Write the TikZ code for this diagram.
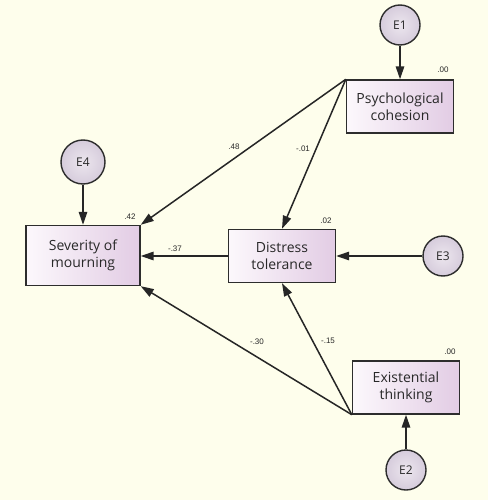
\documentclass[tikz,border=0pt]{standalone}
\usepackage{fontspec}
\setmainfont{Open Sans}
\newfontfamily\labfont{Liberation Sans}
\usetikzlibrary{arrows.meta}
\definecolor{bgc}{RGB}{254,254,236}
\definecolor{boxl}{RGB}{252,248,252}
\definecolor{boxr}{RGB}{226,204,228}
\definecolor{circi}{RGB}{236,230,238}
\definecolor{circo}{RGB}{214,204,220}
\definecolor{edgec}{RGB}{45,45,45}
\definecolor{txtc}{RGB}{40,40,40}
\begin{document}
\begin{tikzpicture}[x=1pt,y=-1pt,
  varbox/.style={rectangle,draw=edgec,line width=1.4pt,left color=boxl,right color=boxr,
    minimum width=107pt,minimum height=53pt,inner sep=0pt,align=center,text=txtc,
    font=\fontsize{14}{17}\selectfont},
  errc/.style={circle,draw=edgec,line width=1.4pt,inner color=circi,outer color=circo,minimum size=40pt,inner sep=0pt,
    text=txtc,font=\fontsize{12}{14}\selectfont},
  lab/.style={inner sep=0pt,text=txtc,font=\labfont\fontsize{8}{9}\selectfont},
  path/.style={draw=black!85,line width=1.5pt,-{Triangle[length=13pt,width=8.5pt]}}]
\fill[bgc] (0,0) rectangle (488,500);
\useasboundingbox (0,0) rectangle (488,500);
% boxes
\node[varbox] (psy) at (400,106.5) {Psychological\\cohesion};
\node[varbox,minimum width=114pt,minimum height=60pt] (sev) at (83,255.5) {Severity of\\mourning};
\node[varbox] (dis) at (282,256) {Distress\\tolerance};
\node[varbox] (exi) at (406,387.5) {Existential\\thinking};
% error circles
\node[errc] (e1) at (400,25) {E1};
\node[errc,minimum size=44pt] (e4) at (83,162) {E4};
\node[errc] (e3) at (443,256) {E3};
\node[errc] (e2) at (406,470) {E2};
% variance labels
\node[lab] (v1) at (443,70) {.00};
\node[lab] (v4) at (130,217) {.42};
\node[lab] (v3) at (326,221) {.02};
\node[lab] (v2) at (450,352) {.00};
% paths
\draw[path] (e1) -- (psy);
\draw[path] (e4) -- (sev);
\draw[path] (e3) -- (dis);
\draw[path] (e2) -- (exi);
\draw[path] (psy.north west) -- (sev.north east);
\draw[path] (psy.north west) -- (dis.north);
\draw[path] (dis.west) -- (sev.east|-dis.west);
\draw[path] (exi.south west) -- (sev.south east);
\draw[path] (exi.south west) -- (dis.south);
% path coefficients
\node[lab] (c48) at (234,147) {.48};
\node[lab] (c01) at (303,149) {-.01};
\node[lab] (c37) at (175,249) {-.37};
\node[lab] (c30) at (257,342) {-.30};
\node[lab] (c15) at (328,341) {-.15};
\end{tikzpicture}
\end{document}
